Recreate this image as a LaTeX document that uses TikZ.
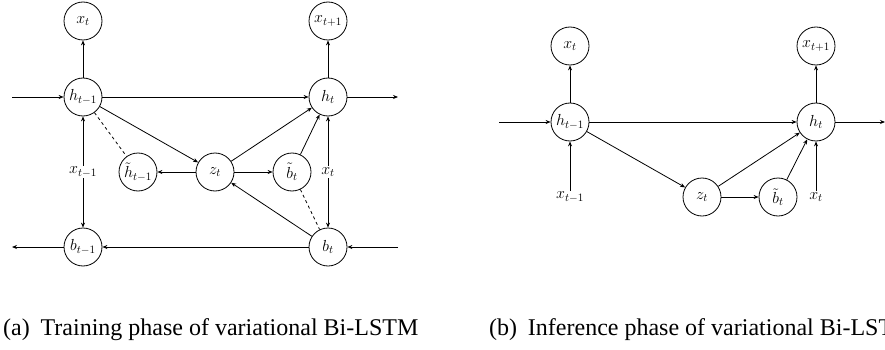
\documentclass[tikz,border=0pt]{standalone}
\usepackage{fix-cm}
\usepackage{amsmath}
\usepackage{fontspec}
\newfontfamily\capfont{Liberation Serif}
\usepackage{tikz}
\usetikzlibrary{arrows.meta}

\begin{document}
\begin{tikzpicture}
[x=1pt, y=-1pt,
var/.style ={circle, draw=black, line width=0.8pt, minimum size=38pt, inner sep=0pt, font=\fontsize{16}{18}\selectfont},
obs/.style ={fill=white, inner sep=1pt, font=\fontsize{16}{18}\selectfont},
caption/.style ={anchor=base west, inner sep=0pt, font=\capfont\fontsize{24}{28}\selectfont},
line/.style ={draw, line width=0.8pt, -{Stealth[length=5pt, width=4pt]}},
both/.style ={draw, line width=0.8pt, {Stealth[length=5pt, width=4pt]}-{Stealth[length=5pt, width=4pt]}},
dashline/.style ={draw, line width=0.8pt, dashed}]
\useasboundingbox (0, 0) rectangle (885, 350);
\clip (0, 0) rectangle (885, 350);
\draw (83, 21) node[var] (xa) {$x_t$};
\draw (328, 21) node[var] (xna) {$x_{t+1}$};
\draw (83, 97) node[var] (hpa) {$h_{t-1}$};
\draw (328, 97) node[var] (ha) {$h_t$};
\draw (138, 172) node[var] (hta) {$\tilde{h}_{t-1}$};
\draw (215, 172) node[var] (za) {$z_t$};
\draw (292, 172) node[var] (bta) {$\tilde{b}_t$};
\draw (83, 247) node[var] (bpa) {$b_{t-1}$};
\draw (328, 247) node[var] (ba) {$b_t$};
\coordinate (ina) at (12, 97);
\coordinate (outa) at (398, 97);
\coordinate (inba) at (398, 247);
\coordinate (outba) at (12, 247);
\draw[line] (ina) -- (hpa);
\draw[line] (hpa) -- (ha);
\draw[line] (ha) -- (outa);
\draw[line] (hpa) -- (xa);
\draw[line] (ha) -- (xna);
\draw[line] (inba) -- (ba);
\draw[line] (ba) -- (bpa);
\draw[line] (bpa) -- (outba);
\draw[both] (hpa) -- (bpa);
\draw[both] (ha) -- (ba);
\draw[line] (hpa) -- (za);
\draw[line] (za) -- (hta);
\draw[line] (za) -- (bta);
\draw[line] (za) -- (ha);
\draw[line] (bta) -- (ha);
\draw[line] (ba) -- (za);
\draw[dashline] (hpa) -- (hta);
\draw[dashline] (bta) -- (ba);
\draw (83, 172) node[obs] (xpa) {$x_{t-1}$};
\draw (328, 172) node[obs] (xca) {$x_t$};
\draw (570, 46) node[var] (xb) {$x_t$};
\draw (816, 46) node[var] (xnb) {$x_{t+1}$};
\draw (570, 122) node[var] (hpb) {$h_{t-1}$};
\draw (816, 122) node[var] (hb) {$h_t$};
\draw (702, 197) node[var] (zb) {$z_t$};
\draw (778, 197) node[var] (btb) {$\tilde{b}_t$};
\draw (570, 197) node[obs] (xpb) {$x_{t-1}$};
\draw (816, 197) node[obs] (xcb) {$x_t$};
\coordinate (inb) at (499, 122);
\coordinate (outb) at (885, 122);
\draw[line] (inb) -- (hpb);
\draw[line] (hpb) -- (hb);
\draw[line] (hb) -- (outb);
\draw[line] (hpb) -- (xb);
\draw[line] (hb) -- (xnb);
\draw[line] (xpb) -- (hpb);
\draw[line] (xcb) -- (hb);
\draw[line] (hpb) -- (zb);
\draw[line] (zb) -- (btb);
\draw[line] (zb) -- (hb);
\draw[line] (btb) -- (hb);
\draw (3, 335) node[caption] (capa) {(a)\hspace{0.45em}Training phase of variational Bi-LSTM};
\draw (489, 335) node[caption] (capb) {(b)\hspace{0.45em}Inference phase of variational Bi-LSTM};
\end{tikzpicture}
\end{document}
